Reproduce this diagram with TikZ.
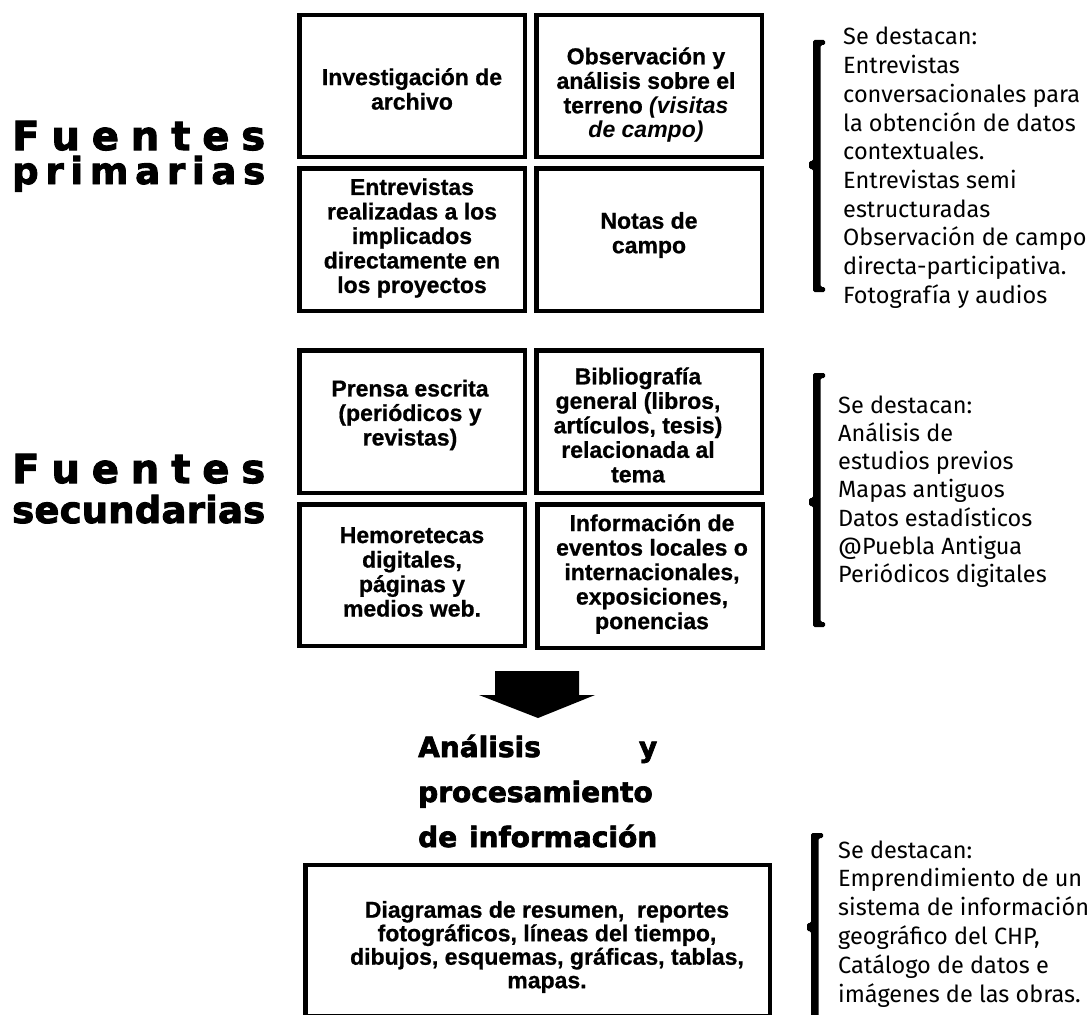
\documentclass[tikz,border=0pt]{standalone}
\usepackage{fontspec}
\setmainfont{Liberation Sans}[BoldFeatures={FakeBold=0.8}]
\newfontfamily\titlefont{DejaVu Sans}[BoldFeatures={FakeBold=2.5}]
\newfontfamily\notefont{Fira Sans}
\begin{document}
\begin{tikzpicture}[x=1pt,y=-1pt,
  box/.style={draw, line width=4.5pt, inner sep=0pt},
  boxtext/.style={font=\fontsize{23}{24.5}\selectfont\bfseries, align=center, inner sep=0pt},
  note/.style={font=\notefont\fontsize{23.5}{28.7}\selectfont, inner sep=0pt, anchor=base west},
  ttl/.style={inner sep=0pt, anchor=base west},
  bigttl/.style={ttl, font=\titlefont\bfseries\fontsize{40}{40}\selectfont},
  subttl/.style={ttl, font=\titlefont\bfseries\fontsize{37}{37}\selectfont},
  headttl/.style={ttl, font=\titlefont\bfseries\fontsize{28}{28}\selectfont},
]
\useasboundingbox (0,0) rectangle (1091,1014);
\clip (0,0) rectangle (1091,1014);

% titles
\node[bigttl] (f1) at (12,150) {\hbox to 253pt{F\hfill u\hfill e\hfill n\hfill t\hfill e\hfill s}};
\node[subttl] (f2) at (12,184) {\hbox to 253pt{p\hfill r\hfill i\hfill m\hfill a\hfill r\hfill i\hfill a\hfill s}};
\node[bigttl] (f3) at (12,483) {\hbox to 253pt{F\hfill u\hfill e\hfill n\hfill t\hfill e\hfill s}};
\node[subttl] (f4) at (12,523) {\hbox to 253pt{s\hfill e\hfill c\hfill u\hfill n\hfill d\hfill a\hfill r\hfill i\hfill a\hfill s}};

% primary boxes
\node[box, minimum width=225.5pt, minimum height=141.5pt] (b1) at (412,86) {};
\node[box, minimum width=225.5pt, minimum height=141.5pt] (b2) at (649,86) {};
\node[box, minimum width=225.5pt, minimum height=142.5pt] (b3) at (412,239.5) {};
\node[box, minimum width=225.5pt, minimum height=142.5pt] (b4) at (649,239.5) {};
\node[boxtext] (t1) at (412,89) {Investigación de\\archivo};
\node[boxtext] (t2) at (646,95) {Observación y\\análisis sobre el\\terreno \textit{(visitas}\\\textit{de campo)}};
\node[boxtext] (t3) at (412,238) {Entrevistas\\realizadas a los\\implicados\\directamente en\\los proyectos};
\node[boxtext] (t4) at (649,235) {Notas de\\campo};

% secondary boxes
\node[box, minimum width=225.5pt, minimum height=142.5pt] (b5) at (412,421.5) {};
\node[box, minimum width=225.5pt, minimum height=142.5pt] (b6) at (649,421.5) {};
\node[box, minimum width=225.5pt, minimum height=141.5pt] (b7) at (412,575) {};
\node[box, minimum width=225.5pt, minimum height=143.5pt] (b8) at (650,576) {};
\node[boxtext] (t5) at (410,415) {Prensa escrita\\(periódicos y\\revistas)};
\node[boxtext] (t6) at (638,425) {Bibliografía\\general (libros,\\artículos, tesis)\\relacionada al\\tema};
\node[boxtext] (t7) at (412,572) {Hemoretecas\\digitales,\\páginas y\\medios web.};
\node[boxtext] (t8) at (652,574) {Información de\\eventos locales o\\internacionales,\\exposiciones,\\ponencias};

% block arrow
\fill (495,671) -- (579,671) -- (579,695) -- (595,695) -- (538,718) -- (479,695) -- (495,695) -- cycle;

% heading
\node[headttl] (h1) at (418,757) {\hbox to 239pt{Análisis\hfill y}};
\node[headttl] (h2) at (418,802) {\hbox to 239pt{procesamiento\hfill}};
\node[headttl] (h3) at (418,847) {\hbox to 239pt{de\hfill información}};

% bottom box
\node[box, minimum width=464.5pt, minimum height=150.75pt] (b9) at (537.5,940.6) {};
\node[boxtext, font=\fontsize{23}{23.5}\selectfont\bfseries] (t9) at (547,947) {Diagramas de resumen,\ \ reportes\\fotográficos, líneas del tiempo,\\dibujos, esquemas, gráficas, tablas,\\mapas.};

% brackets
\foreach \tp/\bt/\nb/\xl in {40/292/165/813, 373/627/502/813, 833/1030/927/811} {
  \fill[rounded corners=1.5pt] (\xl,\tp) -- (\xl+12,\tp) -- (\xl+12,\tp+5) -- (\xl+7.5,\tp+5) -- (\xl+7.5,\bt-5) -- (\xl+12,\bt-5) -- (\xl+12,\bt) -- (\xl,\bt) -- (\xl,\nb+4) -- (\xl-4,\nb+4) -- (\xl-4,\nb-4) -- (\xl,\nb-4) -- cycle;
}

% notes
\foreach \t [count=\i from 0] in {Se destacan:, Entrevistas, conversacionales para, la obtención de datos, contextuales., Entrevistas semi, estructuradas, Observación de campo, directa-participativa., Fotografía y audios}
  \node[note] (na\i) at (843,{45+28.7*\i}) {\t};
\foreach \t [count=\i from 0] in {Se destacan:, Análisis de, estudios previos, Mapas antiguos, Datos estadísticos, @Puebla Antigua, Periódicos digitales}
  \node[note] (nb\i) at (838,{413+28.3*\i}) {\t};
\foreach \t [count=\i from 0] in {Se destacan:, Emprendimiento de un, sistema de información, {geográfico del CHP,}, Catálogo de datos e, imágenes de las obras.}
  \node[note] (nc\i) at (838,{858+28.8*\i}) {\t};
\end{tikzpicture}
\end{document}
